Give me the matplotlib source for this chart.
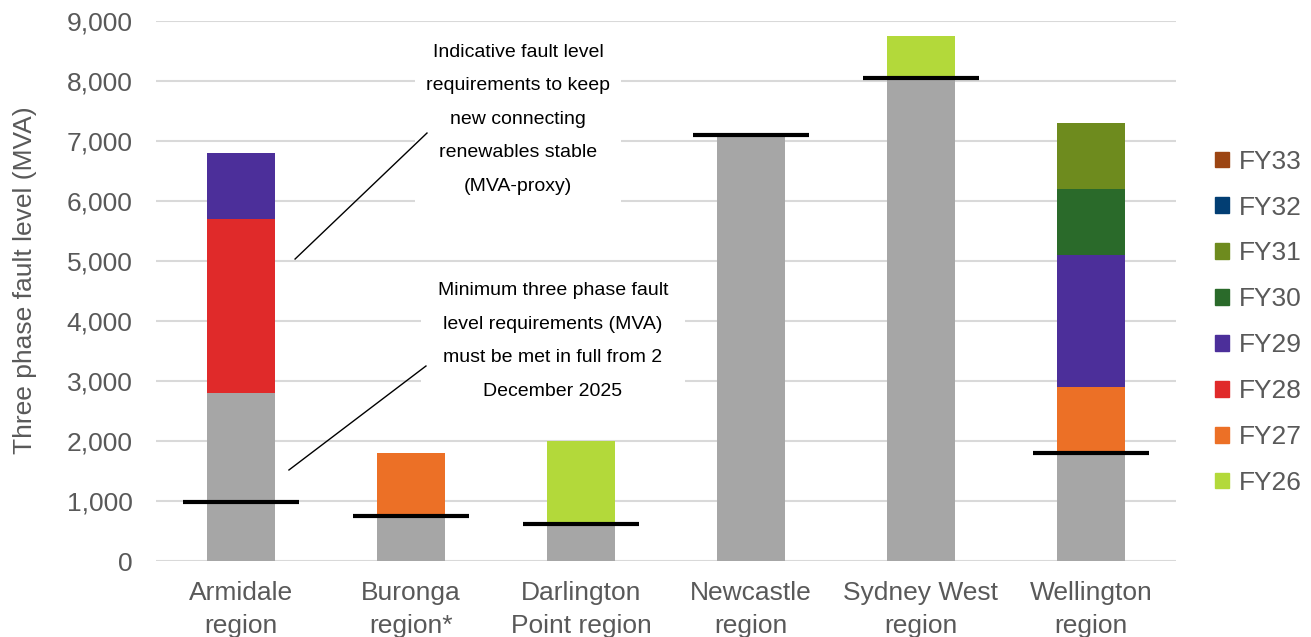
import matplotlib.pyplot as plt
from matplotlib.patches import Patch

plt.rcParams['font.family'] = ['Liberation Sans', 'DejaVu Sans']

regions = ['Armidale\nregion', 'Buronga\nregion*', 'Darlington\nPoint region',
           'Newcastle\nregion', 'Sydney West\nregion', 'Wellington\nregion']

# existing level (grey) and the extra needed per financial year
base = [2800, 750, 620, 7100, 8050, 1800]
years = ['FY26', 'FY27', 'FY28', 'FY29', 'FY30', 'FY31', 'FY32', 'FY33']
fy26 = [0, 0, 1380, 0, 700, 0]
fy27 = [0, 1050, 0, 0, 0, 1100]
fy28 = [2900, 0, 0, 0, 0, 0]
fy29 = [1100, 0, 0, 0, 0, 2200]
fy30 = [0, 0, 0, 0, 0, 1100]
fy31 = [0, 0, 0, 0, 0, 1100]
fy32 = [0, 0, 0, 0, 0, 0]
fy33 = [0, 0, 0, 0, 0, 0]

# minimum three phase fault level requirements
min_req = [980, 750, 620, 7100, 8050, 1800]

colours = ['#B3D93A', '#EC7026', '#E02A2A', '#4C2F9A', '#2A6A2A', '#6E8B1E', '#023E73', '#9C4513']
grey = '#A6A6A6'
txt = '#595959'

fig = plt.figure(figsize=(13.11, 6.37), dpi=100)
ax = fig.add_axes([0.119, 0.1193, 0.778, 0.8477])

x = list(range(len(regions)))
w = 0.4
ax.bar(x, base, width=w, color=grey, zorder=2)
bottom = list(base)
for vals, c in zip([fy26, fy27, fy28, fy29, fy30, fy31, fy32, fy33], colours):
    ax.bar(x, vals, width=w, bottom=bottom, color=c, zorder=2)
    bottom = [b + v for b, v in zip(bottom, vals)]

for i, m in enumerate(min_req):
    ax.hlines(m, i - 0.34, i + 0.34, color='black', lw=3, zorder=4)

ax.set_xlim(-0.5, 5.5)
ax.set_ylim(0, 9000)
ax.set_yticks(range(0, 9001, 1000))
ax.set_yticklabels([f'{v:,}' for v in range(0, 9001, 1000)])
ax.set_xticks(x)
ax.set_xticklabels(regions, fontsize=19, color=txt, linespacing=1.45)
ax.tick_params(axis='y', labelsize=19, colors=txt, length=0, pad=17)
ax.tick_params(axis='x', length=0, pad=14.5)
ax.grid(axis='y', color='#D9D9D9', lw=1.5, zorder=0)
for s in ax.spines.values():
    s.set_visible(False)
ax.set_ylabel('Three phase fault level (MVA)', fontsize=19, color=txt)
ax.yaxis.set_label_coords(-0.117, 0.52)

# annotation boxes with leader lines
ax.text(1.629, 7360, 'Indicative fault level\nrequirements to keep\nnew connecting\nrenewables stable\n(MVA-proxy)',
        ha='center', va='center', fontsize=14, linespacing=2.27, color='black', zorder=5,
        bbox=dict(facecolor='white', edgecolor='none', pad=8))
ax.plot([0.318, 1.094], [5033, 7133], color='black', lw=1, zorder=6)
ax.text(1.835, 3667, 'Minimum three phase fault\nlevel requirements (MVA)\nmust be met in full from 2\nDecember 2025',
        ha='center', va='center', fontsize=14, linespacing=2.27, color='black', zorder=5,
        bbox=dict(facecolor='white', edgecolor='none', pad=12))
ax.plot([0.282, 1.088], [1517, 3250], color='black', lw=1, zorder=6)

handles = [Patch(color=c, label=y) for y, c in zip(years, colours)][::-1]
leg = fig.legend(handles=handles, loc='center left', bbox_to_anchor=(0.909, 0.494),
                 frameon=False, fontsize=19, handlelength=0.53, handleheight=0.53,
                 handletextpad=0.35, labelspacing=0.83)
for t in leg.get_texts():
    t.set_color(txt)

fig.savefig('out.png', dpi=100)
